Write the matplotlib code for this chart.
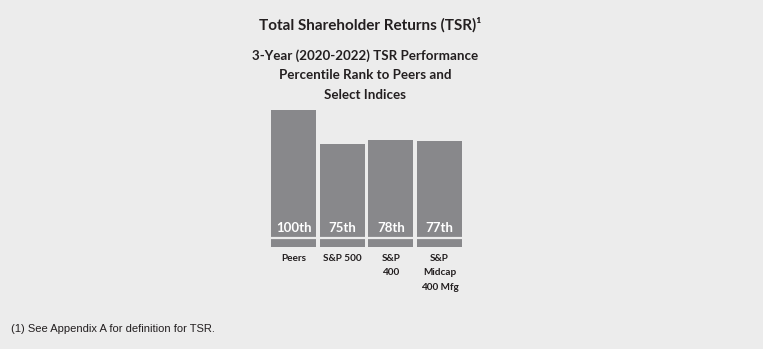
import matplotlib.pyplot as plt
import matplotlib.transforms as mtransforms

categories = ["Peers", "S&P 500", "S&P\n400", "S&P\nMidcap\n400 Mfg"]
ranks = [100, 75, 78, 77]
rank_labels = ["100th", "75th", "78th", "77th"]

BG = "#ececec"
BAR = "#88888b"
TXT = "#231f20"

fig = plt.figure(figsize=(7.63, 3.49), dpi=100)
fig.patch.set_facecolor(BG)

W, H = 763, 349
ax = fig.add_axes([269.2 / W, 102.3 / H, 194.7 / W, 136.7 / H])
ax.set_facecolor(BG)
x = list(range(len(categories)))
ax.bar(x, ranks, width=0.925, color=BAR, linewidth=0)
ax.axhline(6.2, color=BG, linewidth=1.6)
ax.set_xlim(-0.5, 3.5)
ax.set_ylim(0, 100)
ax.axis("off")

for xi, lab in zip(x, rank_labels):
    ax.text(xi, 13.5, lab, ha="center", va="center", color="white",
            fontsize=9.5, fontweight="bold", family="Lato")

trans = mtransforms.blended_transform_factory(ax.transData, fig.transFigure)
for xi, cat in zip(x, categories):
    ax.text(xi, 1 - 254 / H, cat, transform=trans, ha="center", va="top",
            color=TXT, fontsize=7.2, fontweight="bold", family="Lato",
            linespacing=1.75)

fig.text(370 / W, 1 - 25 / H, "Total Shareholder Returns (TSR)\u00b9",
         ha="center", va="center", color=TXT, fontsize=11,
         fontweight="bold", family="Lato")
fig.text(365 / W, 1 - 75 / H,
         "3-Year (2020-2022) TSR Performance\nPercentile Rank to Peers and\nSelect Indices",
         ha="center", va="center", color=TXT, fontsize=9.6,
         fontweight="bold", family="Lato", linespacing=1.75)

fig.text(11 / W, 1 - 329 / H, "(1) See Appendix A for definition for TSR.",
         ha="left", va="center", color=TXT, fontsize=8,
         family="Liberation Sans")

fig.savefig("out.png", dpi=100, facecolor=BG)
